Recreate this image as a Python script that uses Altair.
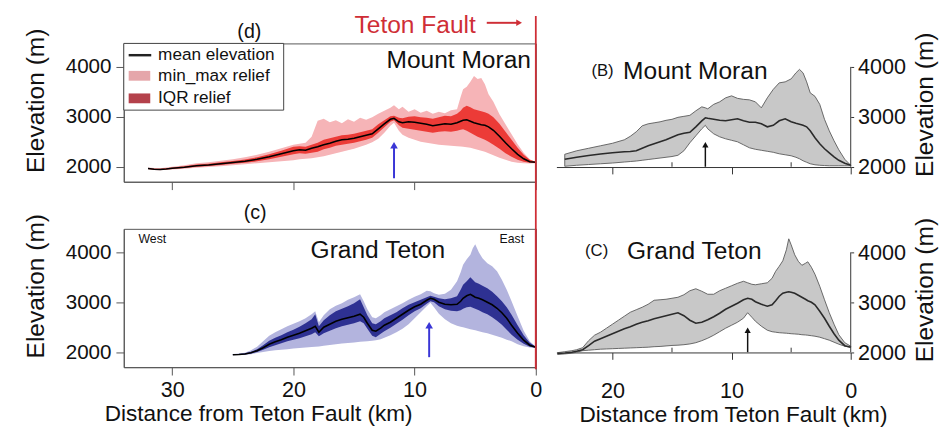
import altair as alt
import pandas as pd

# ---------------- data ----------------
# Panel (d) Mount Moran, left
d_x = [32.0, 31.5, 31.0, 30.5, 30.0, 29.0, 28.0, 27.0, 26.0, 25.0, 24.0, 23.0, 22.0, 21.0, 20.0,
       19.5, 19.0, 18.5, 18.0, 17.5, 17.0, 16.5, 16.0, 15.5, 15.0, 14.5, 14.0, 13.5, 13.0, 12.5,
       12.0, 11.7, 11.3, 11.0, 10.5, 10.0, 9.5, 9.0, 8.5, 8.0, 7.5, 7.0, 6.5, 6.2, 6.0,
       5.7, 5.4, 5.1, 4.8, 4.5, 4.2, 3.9, 3.5, 3.0, 2.5, 2.0, 1.5, 1.0, 0.5, 0.0]
d_mean = [1965, 1950, 1945, 1955, 1970, 1990, 2020, 2035, 2060, 2085, 2110, 2150, 2200, 2260, 2320,
          2340, 2330, 2370, 2400, 2440, 2470, 2510, 2540, 2550, 2570, 2600, 2630, 2660, 2760, 2860,
          2950, 2970, 2900, 2880, 2900, 2890, 2870, 2850, 2820, 2840, 2860, 2850, 2880, 2910, 2930,
          2940, 2910, 2880, 2860, 2840, 2830, 2800, 2730, 2610, 2480, 2360, 2250, 2160, 2100, 2090]
d_q1 = [1955, 1940, 1935, 1945, 1955, 1975, 2000, 2015, 2035, 2060, 2080, 2110, 2150, 2200, 2250,
        2270, 2260, 2280, 2300, 2350, 2380, 2420, 2440, 2460, 2480, 2510, 2540, 2580, 2680, 2790,
        2900, 2930, 2830, 2780, 2760, 2740, 2720, 2700, 2680, 2700, 2710, 2700, 2720, 2740, 2750,
        2720, 2680, 2640, 2600, 2570, 2540, 2500, 2440, 2360, 2270, 2200, 2140, 2100, 2080, 2080]
d_q3 = [1975, 1962, 1958, 1968, 1985, 2010, 2045, 2060, 2090, 2115, 2145, 2190, 2250, 2320, 2400,
        2410, 2400, 2440, 2480, 2540, 2570, 2600, 2630, 2640, 2660, 2690, 2720, 2750, 2850, 2930,
        3010, 3020, 2980, 2970, 3000, 3010, 2990, 2980, 2960, 2990, 3020, 3010, 3060, 3120, 3180,
        3220, 3190, 3150, 3130, 3110, 3090, 3060, 2990, 2860, 2700, 2540, 2380, 2240, 2140, 2100]
d_min = [1950, 1935, 1930, 1938, 1945, 1960, 1980, 1995, 2010, 2030, 2050, 2070, 2090, 2110, 2130,
         2150, 2160, 2170, 2190, 2210, 2240, 2270, 2300, 2330, 2360, 2400, 2440, 2490, 2560, 2680,
         2820, 2880, 2720, 2640, 2580, 2540, 2500, 2480, 2460, 2440, 2430, 2420, 2410, 2405, 2400,
         2390, 2380, 2360, 2340, 2320, 2300, 2270, 2230, 2180, 2140, 2100, 2080, 2070, 2065, 2070]
d_max = [1985, 1975, 1972, 1985, 2000, 2030, 2070, 2090, 2120, 2150, 2190, 2240, 2300, 2370, 2440,
         2460, 2480, 2600, 2920, 2960, 2890, 2930, 2870, 2950, 2900, 2980, 2940, 2990, 3060, 3120,
         3180, 3230, 3150, 3200, 3100, 3150, 3080, 3120, 3060, 3100, 3070, 3130, 3150, 3400, 3550,
         3600, 3700, 3820, 3760, 3780, 3650, 3450, 3300, 3050, 2850, 2650, 2450, 2280, 2150, 2090]

# Panel (c) Grand Teton, left
c_x = [25.0, 24.5, 24.0, 23.5, 23.0, 22.5, 22.0, 21.5, 21.0, 20.5, 20.0, 19.5, 19.0, 18.5, 18.2,
       17.9, 17.5, 17.0, 16.5, 16.0, 15.5, 15.0, 14.5, 14.2, 13.9, 13.5, 13.2, 12.8, 12.5, 12.0,
       11.5, 11.0, 10.5, 10.0, 9.5, 9.0, 8.7, 8.4, 8.0, 7.5, 7.0, 6.5, 6.2, 6.0, 5.7,
       5.4, 5.2, 5.0, 4.7, 4.4, 4.0, 3.6, 3.2, 2.8, 2.4, 2.0, 1.5, 1.0, 0.5, 0.0]
c_mean = [1950, 1955, 1965, 1990, 2030, 2090, 2160, 2210, 2250, 2300, 2340, 2380, 2430, 2480, 2520,
          2400, 2500, 2560, 2620, 2660, 2690, 2720, 2760, 2700, 2580, 2440, 2420, 2480, 2540, 2600,
          2680, 2760, 2840, 2910, 2960, 3040, 3080, 3060, 3000, 2960, 2950, 2960, 3020, 3080, 3130,
          3160, 3130, 3100, 3080, 3050, 3000, 2950, 2880, 2790, 2680, 2540, 2380, 2240, 2140, 2100]
c_q1 = [1945, 1948, 1955, 1975, 2005, 2050, 2100, 2140, 2180, 2220, 2250, 2280, 2320, 2360, 2400,
        2320, 2380, 2430, 2480, 2520, 2550, 2580, 2620, 2580, 2470, 2330, 2300, 2370, 2420, 2490,
        2570, 2650, 2740, 2820, 2880, 2970, 3020, 3000, 2920, 2860, 2830, 2820, 2840, 2870, 2900,
        2910, 2890, 2870, 2840, 2800, 2760, 2700, 2630, 2550, 2450, 2350, 2250, 2170, 2110, 2090]
c_q3 = [1958, 1962, 1978, 2010, 2060, 2140, 2230, 2290, 2340, 2400, 2450, 2510, 2580, 2660, 2760,
        2520, 2640, 2740, 2820, 2870, 2920, 2980, 3060, 2900, 2740, 2580, 2560, 2620, 2680, 2740,
        2800, 2880, 2950, 3000, 3050, 3100, 3130, 3110, 3080, 3060, 3080, 3120, 3250, 3350, 3420,
        3500, 3450, 3400, 3370, 3330, 3280, 3210, 3120, 3020, 2900, 2750, 2540, 2340, 2190, 2110]
c_min = [1940, 1942, 1948, 1960, 1985, 2005, 2025, 2040, 2050, 2060, 2075, 2085, 2095, 2105, 2110,
         2115, 2130, 2145, 2160, 2175, 2185, 2195, 2210, 2215, 2220, 2230, 2240, 2260, 2290, 2340,
         2400, 2470, 2560, 2680, 2800, 2920, 2990, 2900, 2770, 2660, 2580, 2530, 2510, 2500, 2480,
         2460, 2450, 2440, 2420, 2400, 2380, 2350, 2320, 2290, 2250, 2220, 2160, 2120, 2095, 2085]
c_max = [1965, 1972, 1990, 2040, 2110, 2220, 2330, 2400, 2460, 2520, 2570, 2620, 2680, 2760, 2820,
         2600, 2740, 2860, 2930, 2980, 3050, 3100, 3160, 3020, 2860, 2700, 2680, 2740, 2800, 2860,
         2920, 2980, 3050, 3110, 3160, 3230, 3220, 3180, 3150, 3170, 3250, 3420, 3600, 3750, 3860,
         3950, 4080, 4160, 4000, 3880, 3780, 3720, 3620, 3450, 3250, 3020, 2720, 2430, 2220, 2110]

# Panel (B) Mount Moran, right (grey)
B_x = [24.0, 23.0, 22.0, 21.0, 20.0, 19.0, 18.5, 18.0, 17.5, 17.0, 16.5, 16.0, 15.5, 15.0, 14.5,
       14.0, 13.5, 13.0, 12.5, 12.2, 12.0, 11.5, 11.0, 10.5, 10.0, 9.5, 9.0, 8.5, 8.0, 7.5,
       7.0, 6.5, 6.0, 5.5, 5.0, 4.6, 4.3, 4.0, 3.7, 3.4, 3.0, 2.6, 2.2, 1.8, 1.4, 1.0, 0.5, 0.0]
B_max = [2250, 2320, 2370, 2420, 2470, 2540, 2610, 2700, 2820, 2860, 2880, 2900, 2930, 2950, 2990,
         3010, 3030, 3120, 3200, 3180, 3160, 3250, 3300, 3380, 3420, 3370, 3350, 3340, 3300, 3180,
         3380, 3550, 3680, 3700, 3760, 3880, 3950, 3880, 3700, 3480, 3410, 3250, 2950, 2720, 2520,
         2340, 2150, 2030]
B_mean = [2150, 2190, 2225, 2255, 2280, 2300, 2305, 2320, 2370, 2420, 2460, 2500, 2540, 2590, 2640,
          2670, 2690, 2800, 2920, 2980, 2970, 2950, 2930, 2920, 2940, 2960, 2920, 2890, 2890, 2860,
          2800, 2830, 2920, 2960, 2900, 2870, 2850, 2830, 2800, 2720, 2580, 2460, 2360, 2280, 2200,
          2130, 2070, 2030]
B_min = [2010, 2030, 2045, 2060, 2075, 2095, 2105, 2115, 2130, 2145, 2160, 2175, 2190, 2205, 2230,
         2320, 2480, 2620, 2760, 2830, 2760, 2660, 2600, 2560, 2530, 2500, 2440, 2380, 2350, 2330,
         2310, 2290, 2260, 2240, 2220, 2190, 2160, 2120, 2090, 2060, 2040, 2030, 2025, 2020, 2020,
         2020, 2020, 2020]

# Panel (C) Grand Teton, right (grey)
C_x = [24.6, 24.0, 23.4, 23.0, 22.5, 22.0, 21.5, 21.0, 20.5, 20.0, 19.5, 19.0, 18.5, 18.0, 17.5,
       17.0, 16.5, 16.0, 15.5, 15.0, 14.5, 14.0, 13.5, 13.0, 12.5, 12.0, 11.5, 11.0, 10.5, 10.0,
       9.5, 9.0, 8.65, 8.3, 8.0, 7.5, 7.0, 6.6, 6.3, 6.0, 5.7, 5.4, 5.2, 5.0, 4.7,
       4.4, 4.1, 3.8, 3.6, 3.3, 3.0, 2.6, 2.2, 1.8, 1.4, 1.0, 0.5, 0.0]
C_max = [1990, 2010, 2030, 2050, 2090, 2230, 2340, 2400, 2480, 2560, 2640, 2720, 2800, 2850, 2900,
         2960, 3040, 3050, 3060, 3080, 3100, 3150, 3230, 3270, 3220, 3160, 3160, 3230, 3280, 3330,
         3380, 3420, 3390, 3360, 3350, 3370, 3390, 3480, 3620, 3720, 3830, 4050, 4270, 4150, 3950,
         3820, 3740, 3780, 3810, 3700, 3560, 3320, 3050, 2790, 2560, 2350, 2190, 2120]
C_mean = [1975, 1985, 2000, 2020, 2050, 2130, 2220, 2270, 2320, 2370, 2420, 2470, 2510, 2560, 2600,
          2630, 2670, 2700, 2730, 2760, 2790, 2730, 2640, 2580, 2600, 2650, 2710, 2780, 2860, 2920,
          2980, 3050, 3080, 3060, 3010, 2960, 2920, 2950, 3030, 3120, 3180, 3200, 3210, 3200, 3180,
          3140, 3100, 3060, 3030, 3000, 2950, 2820, 2680, 2520, 2370, 2240, 2130, 2100]
C_min = [1955, 1965, 1980, 2000, 2030, 2040, 2050, 2060, 2065, 2070, 2075, 2080, 2085, 2090, 2095,
         2100, 2110, 2115, 2125, 2135, 2140, 2150, 2165, 2190, 2230, 2280, 2340, 2410, 2480, 2540,
         2600, 2680, 2790, 2700, 2620, 2520, 2440, 2410, 2400, 2390, 2385, 2380, 2375, 2370, 2365,
         2360, 2350, 2345, 2340, 2330, 2320, 2300, 2270, 2240, 2200, 2160, 2120, 2100]

# arrows: [distance km, base elevation, tip elevation]
d_arrow = [11.7, 1770, 2430]
c_arrow = [8.8, 1900, 2540]
B_arrow = [12.2, 2000, 2440]
C_arrow = [8.65, 2000, 2440]

elev_ticks = [2000, 3000, 4000]
left_km_ticks = [30, 20, 10, 0]
right_km_ticks = [20, 10, 0]
right_minor_ticks = [15, 5]

# ---------------- styling ----------------
FONT = "Liberation Sans"
Y_DOMAIN = [1700, 4470]
W_L, W_R, H = 420, 300, 141
PINK, RED = "#f6b4b7", "#ec3b37"
LEG_PINK, LEG_RED = "#e5a6aa", "#b4414b"
LAV, NAVY = "#b3b4de", "#2e3192"
GREY_FILL, GREY_EDGE = "#c8c8c8", "#5a5a5a"
FAULT_RED = "#cf2e36"
ARROW_BLUE = "#3a36d6"
INK = "#111111"

one = pd.DataFrame({"k": [0]})


def band_df(x, mean, lo, hi, q1=None, q3=None):
    data = {"x": x, "mean": mean, "lo": lo, "hi": hi}
    if q1 is not None:
        data["q1"] = q1
        data["q3"] = q3
    return pd.DataFrame(data)


def arrow_df(a):
    return pd.DataFrame({"x": [a[0]], "y0": [a[1]], "y1": [a[2]]})


def txt(text, x, y, size, align="center", color=INK, baseline="middle"):
    return alt.Chart(one).mark_text(text=text, font=FONT, fontSize=size, align=align,
                                    baseline=baseline, color=color).encode(
        x=alt.value(x), y=alt.value(y))


y_scale = alt.Scale(domain=Y_DOMAIN, nice=False, zero=False)

Y_AXIS_LEFT = alt.Axis(title="Elevation (m)", values=elev_ticks, format="d", tickSize=8,
                       labelPadding=5, labelFontSize=21, titleFontSize=25, titleAngle=270,
                       titleX=-90, titleY=58, titleBaseline="middle", titleAlign="center")
Y_AXIS_RIGHT = alt.Axis(title="Elevation (m)", orient="right", values=elev_ticks, format="d",
                        domain=False, tickSize=3, labelPadding=4, labelFontSize=22,
                        titleFontSize=25, titleAngle=270, titleX=75, titleY=62,
                        titleBaseline="middle", titleAlign="center", tickColor="#333")

X_AXIS_D = alt.Axis(values=left_km_ticks, labels=False, title=None, tickSize=8)
X_AXIS_C = alt.Axis(values=left_km_ticks, format="d", tickSize=8, labelPadding=5,
                    labelFontSize=22, labelFlush=False, title="Distance from Teton Fault (km)",
                    titleFontSize=23, titleX=137, titleY=47, titleBaseline="middle",
                    titleAlign="center")
X_AXIS_B = alt.Axis(values=right_km_ticks, labels=False, title=None, tickSize=7, offset=-15,
                    domainColor="#333", tickColor="#333")
X_AXIS_CR = alt.Axis(values=right_km_ticks, format="d", tickSize=7, offset=-15, labelPadding=22,
                     labelFontSize=22, labelFlush=False, title="Distance from Teton Fault (km)",
                     titleFontSize=23, titleX=180, titleY=63, titleBaseline="middle",
                     titleAlign="center", domainColor="#333", tickColor="#333")


def left_panel(df, arr, light, dark, x_axis, extras):
    xs = alt.Scale(domain=[34, 0], nice=False, zero=False)
    X = alt.X("x:Q", scale=xs, axis=x_axis)

    def Y(f):
        return alt.Y(f + ":Q", scale=y_scale, axis=Y_AXIS_LEFT)

    base = alt.Chart(df)
    mm = base.mark_area(color=light, opacity=1).encode(x=X, y=Y("lo"), y2="hi:Q")
    iqr = base.mark_area(color=dark, opacity=1).encode(x=X, y=Y("q1"), y2="q3:Q")
    mean = base.mark_line(color="black", strokeWidth=1.6).encode(x=X, y=Y("mean"))
    a = alt.Chart(arrow_df(arr))
    shaft = a.mark_rule(color=ARROW_BLUE, strokeWidth=2).encode(x=X, y=Y("y0"), y2="y1:Q")
    head = a.mark_point(shape="triangle-up", filled=True, size=60, color=ARROW_BLUE,
                        opacity=1).encode(x=X, y=Y("y1"))
    return alt.layer(mm, iqr, mean, shaft, head, *extras).properties(width=W_L, height=H)


def right_panel(df, arr, x_axis, extras):
    xs = alt.Scale(domain=[24.7, 0], nice=False, zero=False)
    X = alt.X("x:Q", scale=xs, axis=x_axis)

    def Y(f):
        return alt.Y(f + ":Q", scale=y_scale, axis=Y_AXIS_RIGHT)

    base = alt.Chart(df)
    band = base.mark_area(fill=GREY_FILL, stroke=GREY_EDGE, strokeWidth=0.9,
                          opacity=1).encode(x=X, y=Y("lo"), y2="hi:Q")
    mean = base.mark_line(color="#2a2a2a", strokeWidth=1.6).encode(x=X, y=Y("mean"))
    a = alt.Chart(arrow_df(arr))
    shaft = a.mark_rule(color="#111", strokeWidth=1.5).encode(x=X, y=Y("y0"), y2="y1:Q")
    head = a.mark_point(shape="triangle-up", filled=True, size=40, color="#111",
                        opacity=1).encode(x=X, y=Y("y1"))
    yline = alt.Chart(pd.DataFrame({"y0": [elev_ticks[0]], "y1": [elev_ticks[-1]]})).mark_rule(
        color="#333", strokeWidth=1).encode(x=alt.value(W_R), y=Y("y0"), y2="y1:Q")
    minor = alt.Chart(pd.DataFrame({"x": right_minor_ticks, "y0": [2000, 2000],
                                    "y1": [2090, 2090]})).mark_rule(
        color="#333", strokeWidth=1).encode(x=X, y=Y("y0"), y2="y1:Q")
    return alt.layer(band, mean, shaft, head, yline, minor, *extras).properties(
        width=W_R, height=H, view=alt.ViewBackground(stroke="transparent"))


# ---- panel d extras: legend, labels, fault marker ----
legend_layers = [
    alt.Chart(one).mark_rect(fill="white", stroke="#444", strokeWidth=1).encode(
        x=alt.value(0), x2=alt.value(163), y=alt.value(0), y2=alt.value(68)),
    alt.Chart(one).mark_rule(color="#222", strokeWidth=2.5).encode(
        x=alt.value(5), x2=alt.value(28), y=alt.value(12)),
    alt.Chart(one).mark_rect(color=LEG_PINK).encode(
        x=alt.value(5), x2=alt.value(27), y=alt.value(28), y2=alt.value(38)),
    alt.Chart(one).mark_rect(color=LEG_RED).encode(
        x=alt.value(5), x2=alt.value(27), y=alt.value(51), y2=alt.value(61)),
    txt("mean elevation", 35, 12, 17.5, align="left"),
    txt("min_max relief", 35, 33, 17.5, align="left"),
    txt("IQR relief", 35, 56, 17.5, align="left"),
]
fault_layers = [
    alt.Chart(one).mark_rule(color=FAULT_RED, strokeWidth=1.8).encode(
        x=alt.value(W_L), y=alt.value(-28), y2=alt.value(332)),
    txt("Teton Fault", 297, -19, 25, color=FAULT_RED),
    alt.Chart(one).mark_rule(color=FAULT_RED, strokeWidth=2).encode(
        x=alt.value(370), x2=alt.value(401), y=alt.value(-21)),
    alt.Chart(one).mark_point(shape="triangle-right", filled=True, size=45, color=FAULT_RED,
                              opacity=1).encode(x=alt.value(403), y=alt.value(-21)),
]
d_extras = legend_layers + [
    txt("Mount Moran", 415, 17, 25, align="right"),
    txt("(d)", 128, -12, 20),
] + fault_layers

c_extras = [
    alt.Chart(one).mark_rule(color=FAULT_RED, strokeWidth=1.8).encode(
        x=alt.value(W_L), y=alt.value(0), y2=alt.value(H + 2)),
    txt("West", 15, 10, 12.5, align="left"),
    txt("East", 408, 10, 12.5, align="right"),
    txt("Grand Teton", 259, 22, 25),
    txt("(c)", 134, -16, 20),
]

B_extras = [txt("(B)", 47, 28, 17), txt("Mount Moran", 68, 28, 25, align="left")]
C_extras = [txt("(C)", 41, 23, 17), txt("Grand Teton", 72, 23, 25, align="left")]

panel_d = left_panel(band_df(d_x, d_mean, d_min, d_max, d_q1, d_q3), d_arrow, PINK, RED,
                     X_AXIS_D, d_extras)
panel_c = left_panel(band_df(c_x, c_mean, c_min, c_max, c_q1, c_q3), c_arrow, LAV, NAVY,
                     X_AXIS_C, c_extras)
panel_B = right_panel(band_df(B_x, B_mean, B_min, B_max), B_arrow, X_AXIS_B, B_extras)
panel_C = right_panel(band_df(C_x, C_mean, C_min, C_max), C_arrow, X_AXIS_CR, C_extras)

chart = alt.concat(panel_d, panel_B, panel_c, panel_C, columns=2,
                   spacing={"row": 48, "column": 21}, bounds="flush").properties(
    padding={"left": 15, "top": 0, "right": 2, "bottom": 2}
).configure_view(stroke="#555", strokeWidth=1).configure_axis(
    labelFont=FONT, titleFont=FONT, titleFontWeight="normal", grid=False,
    labelColor=INK, titleColor=INK, domainColor="#555", tickColor="#555"
).configure_text(font=FONT)

chart.save("out.html", embed_options={"renderer": "svg", "actions": False})
